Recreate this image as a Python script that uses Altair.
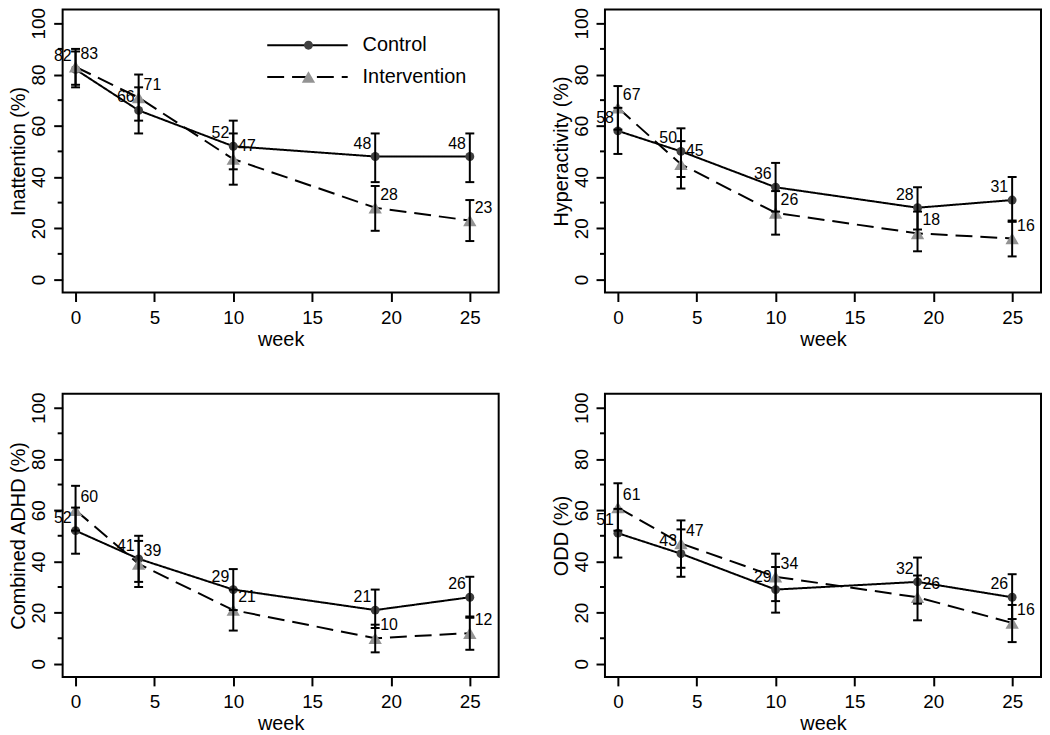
import altair as alt
import pandas as pd

# ---------------- data ----------------
weeks = [0, 4, 10, 19, 25]
groups = ["Control", "Intervention"]
panel_titles = ["Inattention (%)", "Hyperactivity (%)", "Combined ADHD (%)", "ODD (%)"]

# Inattention
inat_ctrl = [82, 66, 52, 48, 48]
inat_ctrl_lo = [75, 57, 43, 38, 38]
inat_ctrl_hi = [89, 75, 62, 57, 57]
inat_int = [83, 71, 47, 28, 23]
inat_int_lo = [76, 62, 37, 19, 15]
inat_int_hi = [90, 80, 57, 36.5, 31]

# Hyperactivity
hyp_ctrl = [58, 50, 36, 28, 31]
hyp_ctrl_lo = [49, 40, 26.5, 19.5, 22.5]
hyp_ctrl_hi = [67, 59, 45.5, 36, 40]
hyp_int = [67, 45, 26, 18, 16]
hyp_int_lo = [58.5, 35.5, 17.5, 11, 9]
hyp_int_hi = [75.5, 54, 34.5, 26.5, 23]

# Combined ADHD
comb_ctrl = [52, 41, 29, 21, 26]
comb_ctrl_lo = [43, 32, 21, 14, 18]
comb_ctrl_hi = [61, 50, 37, 29, 34]
comb_int = [60, 39, 21, 10, 12]
comb_int_lo = [52, 30, 13, 4.5, 5.5]
comb_int_hi = [69.5, 48, 29, 15.3, 18.5]

# ODD
odd_ctrl = [51, 43, 29, 32, 26]
odd_ctrl_lo = [41.5, 34, 20, 23.5, 17.5]
odd_ctrl_hi = [60.5, 52.5, 37.8, 41.5, 35]
odd_int = [61, 47, 34, 26, 16]
odd_int_lo = [52, 37.5, 24.5, 17, 8.5]
odd_int_hi = [70.5, 56, 43, 34.5, 23]

x_ticks = [0, 5, 10, 15, 20, 25]
y_ticks = [0, 20, 40, 60, 80, 100]
y_minor = [10, 30, 50, 70, 90]

panels = [
    (inat_ctrl, inat_ctrl_lo, inat_ctrl_hi, inat_int, inat_int_lo, inat_int_hi),
    (hyp_ctrl, hyp_ctrl_lo, hyp_ctrl_hi, hyp_int, hyp_int_lo, hyp_int_hi),
    (comb_ctrl, comb_ctrl_lo, comb_ctrl_hi, comb_int, comb_int_lo, comb_int_hi),
    (odd_ctrl, odd_ctrl_lo, odd_ctrl_hi, odd_int, odd_int_lo, odd_int_hi),
]

FONT = "Liberation Sans"
W, H = 439, 285

xs = alt.Scale(domain=[-0.82, 26.83], nice=False, zero=False)
ys = alt.Scale(domain=[-5.1, 105.4], nice=False, zero=False)

xax = alt.Axis(values=x_ticks, title="week", domain=False, grid=False,
               tickSize=9, tickWidth=2, tickColor="black",
               labelFontSize=19, labelPadding=7, labelColor="black",
               labelFlush=False, labelOverlap=False, labelFont=FONT,
               titleFontSize=20, titlePadding=2, titleFontWeight="normal",
               titleColor="black", titleFont=FONT)


def yax(title):
    return alt.Axis(values=y_ticks, title=title, domain=False, grid=False,
                    tickSize=9, tickWidth=2, tickColor="black",
                    labelAngle=270, labelAlign="center", labelBaseline="bottom",
                    labelPadding=5, labelFontSize=19, labelColor="black",
                    labelFont=FONT, labelOverlap=False, labelFlush=False,
                    titleFontSize=20, titlePadding=1, titleFontWeight="normal",
                    titleColor="black", titleFont=FONT)


def make_df(vals):
    c, clo, chi, i, ilo, ihi = vals
    rows = []
    for g, v, lo, hi in [("Control", c, clo, chi), ("Intervention", i, ilo, ihi)]:
        for w, a, b, d in zip(weeks, v, lo, hi):
            rows.append({"week": w, "group": g, "group2": g, "value": a,
                         "lo": b, "hi": d, "lab": str(int(round(a)))})
    return pd.DataFrame(rows)


def panel(vals, title, show_legend):
    df = make_df(vals)
    base = alt.Chart(df)
    X = alt.X("week:Q", scale=xs, axis=xax)

    def Y(f):
        return alt.Y(f, scale=ys, axis=yax(title))

    # legend with a long line key (line drawn wider than the nominal symbol box)
    legA = alt.Legend(orient="none", legendX=236.5, legendY=26, title=None,
                      symbolType="M-6.75,0H6.75", symbolSize=144, symbolStrokeWidth=2,
                      symbolStrokeColor="black", labelFontSize=20, labelFont=FONT,
                      labelColor="black", labelOffset=45.5, labelBaseline="middle",
                      rowPadding=12, padding=0, zindex=1) if show_legend else None
    legB = alt.Legend(orient="none", legendX=237.5, legendY=26, title=None,
                      symbolSize=140, symbolStrokeWidth=0, labelFontSize=20,
                      labelFont=FONT, labelExpr="' '", labelBaseline="middle",
                      rowPadding=12, padding=0, zindex=2) if show_legend else None

    line = base.mark_line(color="black", strokeWidth=2).encode(
        x=X, y=Y("value:Q"),
        strokeDash=alt.StrokeDash("group:N",
                                  scale=alt.Scale(range=[[1, 0], [17, 8]]),
                                  legend=legA),
    )
    pts = base.mark_point(filled=True, opacity=1, strokeWidth=0).encode(
        x=X, y=Y("value:Q"),
        shape=alt.Shape("group2:N",
                        scale=alt.Scale(domain=groups, range=["circle", "triangle-up"]),
                        legend=legB),
        color=alt.Color("group2:N",
                        scale=alt.Scale(domain=groups, range=["#404040", "#939393"]),
                        legend=legB),
        size=alt.Size("group2:N", scale=alt.Scale(domain=groups, range=[80, 180]),
                      legend=None),
    )
    bars = base.mark_rule(color="black", strokeWidth=2).encode(
        x=X, y=Y("lo:Q"), y2="hi:Q")
    cap_lo = base.mark_tick(color="black", orient="horizontal", size=9,
                            thickness=2, opacity=1).encode(x=X, y=Y("lo:Q"))
    cap_hi = base.mark_tick(color="black", orient="horizontal", size=9,
                            thickness=2, opacity=1).encode(x=X, y=Y("hi:Q"))
    txt_c = base.transform_filter(alt.datum.group == "Control").mark_text(
        align="right", baseline="middle", dx=-4, dy=-13, fontSize=16,
        font=FONT, color="black").encode(x=X, y=Y("value:Q"), text="lab:N")
    txt_i = base.transform_filter(alt.datum.group == "Intervention").mark_text(
        align="left", baseline="middle", dx=5, dy=-13, fontSize=16,
        font=FONT, color="black").encode(x=X, y=Y("value:Q"), text="lab:N")
    minor = alt.Chart(pd.DataFrame({"m": y_minor})).mark_rule(
        color="black", strokeWidth=2).encode(
        y=Y("m:Q"), x=alt.value(0), x2=alt.value(-5))

    return alt.layer(line, pts, bars, cap_lo, cap_hi, txt_c, txt_i, minor).properties(
        width=W, height=H)


charts = [panel(v, t, k == 0) for k, (v, t) in enumerate(zip(panels, panel_titles))]

chart = alt.concat(*charts, columns=2,
                   spacing=alt.RowColnumber(row=41, column=51)).resolve_scale(
    strokeDash="independent", shape="independent", color="independent",
    size="independent").properties(
    padding={"top": -4, "left": 0, "right": 0, "bottom": 0},
    background="white").configure_view(stroke="black", strokeWidth=2)

chart.save("out.html", embed_options={"renderer": "svg", "actions": False})
